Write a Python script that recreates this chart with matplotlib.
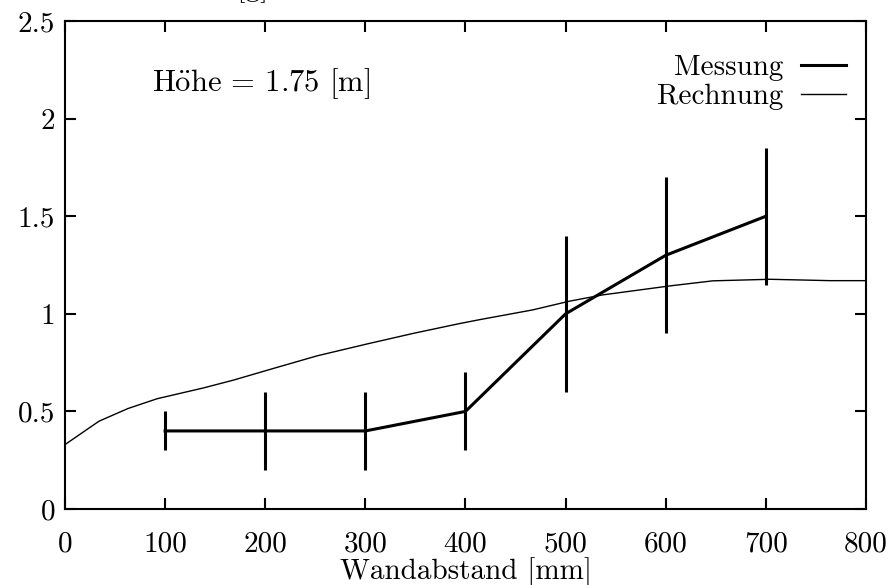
import matplotlib
matplotlib.use("Agg")
import matplotlib.pyplot as plt

plt.rcParams["mathtext.fontset"] = "cm"
plt.rcParams["font.family"] = "serif"
plt.rcParams["font.serif"] = ["cmr10", "DejaVu Serif"]
plt.rcParams["axes.formatter.use_mathtext"] = True
plt.rcParams["font.size"] = 21

# Messwerte mit Fehlerbalken
mess_x = [100, 200, 300, 400, 500, 600, 700]
mess_y = [0.4, 0.4, 0.4, 0.5, 1.0, 1.3, 1.5]
mess_err = [0.1, 0.2, 0.2, 0.2, 0.4, 0.4, 0.35]

# Rechnung
rech_x = [0, 34, 63, 92, 138, 168, 208, 252, 302, 348, 394, 414, 467, 504,
          537, 604, 647, 704, 764, 800]
rech_y = [0.33, 0.45, 0.515, 0.565, 0.62, 0.66, 0.72, 0.785, 0.846, 0.90,
          0.95, 0.97, 1.02, 1.065, 1.097, 1.143, 1.169, 1.177, 1.17, 1.17]

x_ticks = [0, 100, 200, 300, 400, 500, 600, 700, 800]
y_ticks = [0, 0.5, 1, 1.5, 2, 2.5]
y_tick_labels = ["0", "0.5", "1", "1.5", "2", "2.5"]

fig = plt.figure(figsize=(8.95, 5.85), dpi=100)
ax = fig.add_axes([0.0726, 0.1299, 0.8950, 0.8341])

ax.errorbar(mess_x, mess_y, yerr=mess_err, fmt="none", ecolor="black",
            elinewidth=2.2, capsize=0)
l_mess, = ax.plot(mess_x, mess_y, color="black", lw=2.2, label="Messung")
l_rech, = ax.plot(rech_x, rech_y, color="black", lw=1.0, label="Rechnung")

ax.set_xlim(0, 800)
ax.set_ylim(0, 2.5)
ax.set_xticks(x_ticks)
ax.set_xticklabels([str(v) for v in x_ticks])
ax.set_yticks(y_ticks)
ax.set_yticklabels(y_tick_labels)
ax.tick_params(direction="in", length=8, width=1.5, top=True, right=True)
ax.tick_params(axis="x", pad=16)
ax.tick_params(axis="y", pad=7)
for s in ax.spines.values():
    s.set_linewidth(1.5)

ax.set_xlabel("Wandabstand [mm]", labelpad=0)
ax.text(0.109, 0.871, r"H$\ddot{\rm o}$he = 1.75 [m]", transform=ax.transAxes,
        ha="left", va="center", fontsize=22)

ax.legend(handles=[l_mess, l_rech], loc="upper right", frameon=False,
          markerfirst=False, handlelength=1.55, handletextpad=0.6,
          labelspacing=0.1, borderaxespad=0.0, bbox_to_anchor=(0.99, 0.955))

# Achsenbeschriftung oben am Bildrand
fig.text(0.05, 1 + 4.0 / 585, "Konzentration [g]", ha="left",
         va="baseline", fontsize=21)

fig.savefig("out.png", dpi=100)
